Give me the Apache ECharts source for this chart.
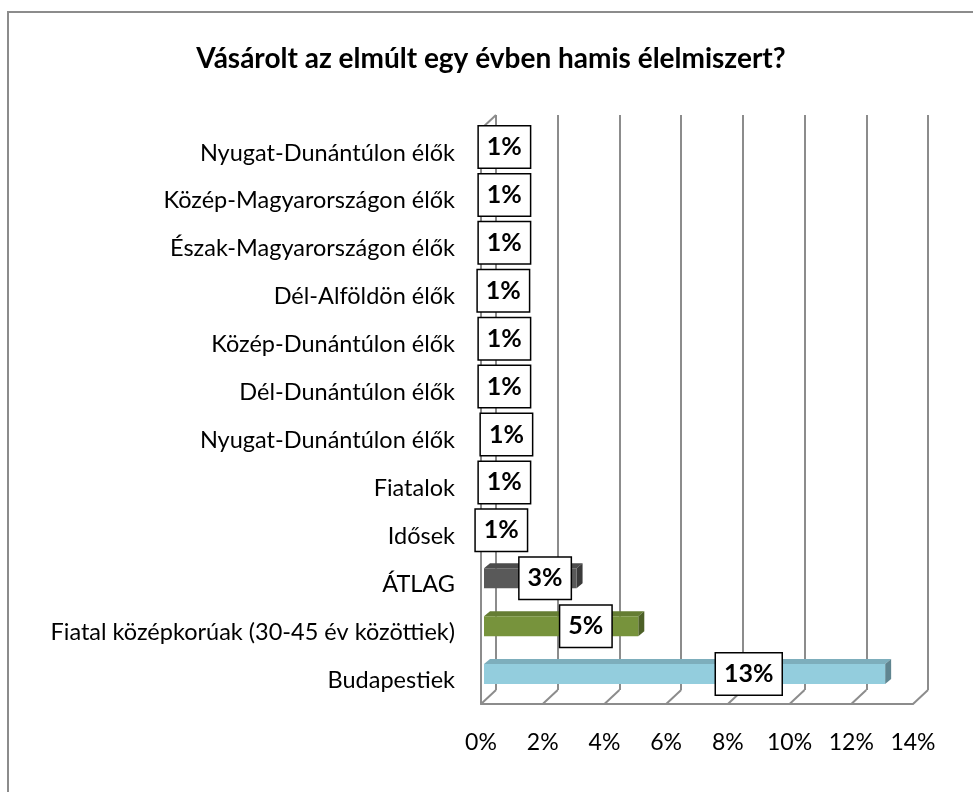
<!DOCTYPE html>
<html>
<head>
<meta charset="utf-8">
<script src="https://cdn.jsdelivr.net/npm/echarts@6/dist/echarts.min.js"></script>
<style>
  html, body { margin: 0; padding: 0; background: #fff; }
  #chart { width: 973px; height: 792px; }
</style>
</head>
<body>
<div id="chart"></div>
<script>
// categories bottom -> top (category axis starts at the bottom)
const categories = [
  "Budapestiek",
  "Fiatal középkorúak (30-45 év közöttiek)",
  "ÁTLAG",
  "Idősek",
  "Fiatalok",
  "Nyugat-Dunántúlon élők",
  "Dél-Dunántúlon élők",
  "Közép-Dunántúlon élők",
  "Dél-Alföldön élők",
  "Észak-Magyarországon élők",
  "Közép-Magyarországon élők",
  "Nyugat-Dunántúlon élők"
];
const values = [13, 5, 3, 0.85, 1.0, 1.1, 1.0, 1.0, 0.95, 1.0, 1.0, 1.0];
const barColors = ["#93cddd", "#77933c", "#595959", "#4f81bd", "#4f81bd", "#4f81bd",
  "#4f81bd", "#4f81bd", "#4f81bd", "#4f81bd", "#4f81bd", "#4f81bd"];
const tickValues = [0, 2, 4, 6, 8, 10, 12, 14];

const FONT = "Lato";
const DEPTH_X = 15, DEPTH_Y = 14;   // wall depth
const BAR_DX = 6, BAR_DY = 5;       // bar depth
const GRID_COLOR = "#8c8c8c";

function shade(hex, f) {
  const n = parseInt(hex.slice(1), 16);
  const r = Math.round(((n >> 16) & 255) * f);
  const g = Math.round(((n >> 8) & 255) * f);
  const b = Math.round((n & 255) * f);
  return "rgb(" + r + "," + g + "," + b + ")";
}

const chart = echarts.init(document.getElementById("chart"));

chart.setOption({
  animation: false,
  backgroundColor: "#fff",
  title: {
    text: "Vásárolt az elmúlt egy évben hamis élelmiszert?",
    left: 486,
    textAlign: "center",
    top: 40,
    textStyle: { fontFamily: FONT, fontWeight: "bold", fontSize: 28, color: "#000" }
  },
  graphic: [{
    type: "rect",
    shape: { x: 8, y: 12, width: 980, height: 800 },
    style: { fill: "none", stroke: GRID_COLOR, lineWidth: 2 },
    silent: true
  }],
  grid: [
    // front plane
    { left: 481, right: 60, top: 129, bottom: 88 },
    // back wall plane
    { left: 481 + DEPTH_X, right: 60 - DEPTH_X, top: 129 - DEPTH_Y, bottom: 88 + DEPTH_Y }
  ],
  xAxis: [{
    gridIndex: 0, type: "value", min: 0, max: 14, interval: 2,
    axisLine: { show: true, lineStyle: { color: GRID_COLOR, width: 2 } },
    axisTick: { show: false },
    splitLine: { show: false },
    axisLabel: {
      margin: 27, fontFamily: FONT, fontSize: 23, color: "#000",
      formatter: v => v + "%"
    }
  }, {
    gridIndex: 1, type: "value", min: 0, max: 14, interval: 2,
    axisLine: { show: false }, axisTick: { show: false }, axisLabel: { show: false },
    splitLine: { show: true, lineStyle: { color: GRID_COLOR, width: 2 } }
  }],
  yAxis: [{
    gridIndex: 0, type: "category", data: categories,
    axisLine: { show: true, lineStyle: { color: GRID_COLOR, width: 2 } },
    axisTick: { show: false },
    axisLabel: { margin: 26, fontFamily: FONT, fontSize: 23.5, color: "#000" }
  }, {
    gridIndex: 1, type: "category", data: categories,
    axisLine: { show: false }, axisTick: { show: false }, axisLabel: { show: false }
  }],
  series: [{
    // floor diagonals and wall top edge
    type: "custom",
    xAxisIndex: 0, yAxisIndex: 0,
    silent: true,
    data: tickValues.map(v => [v, 0]),
    renderItem: function (params, api) {
      const p = api.coord([api.value(0), 0]);
      const band = api.size([0, 1])[1];
      const y0 = p[1] + band / 2;
      const children = [{
        type: "line",
        shape: { x1: p[0], y1: y0, x2: p[0] + DEPTH_X, y2: y0 - DEPTH_Y },
        style: { stroke: GRID_COLOR, lineWidth: 2 }
      }];
      if (api.value(0) === 0) {
        const top = api.coord([0, categories.length - 1])[1] - band / 2;
        children.push({
          type: "line",
          shape: { x1: p[0], y1: top, x2: p[0] + DEPTH_X, y2: top - DEPTH_Y },
          style: { stroke: GRID_COLOR, lineWidth: 2 }
        });
      }
      return { type: "group", children: children };
    }
  }, {
    // 3D bars with boxed labels
    type: "custom",
    xAxisIndex: 0, yAxisIndex: 0,
    data: values.map((v, i) => [v, i]),
    renderItem: function (params, api) {
      const val = api.value(0);
      const idx = api.value(1);
      const s = api.coord([0, idx]);
      const e = api.coord([val, idx]);
      const h = 20;
      const x0 = s[0] + 3, x1 = e[0] + 3;
      const yc = s[1] - 6;
      const yt = yc - h / 2, yb = yc + h / 2;
      const c = barColors[idx];
      const lx = x0 + (x1 - x0) * 0.66;
      return {
        type: "group",
        children: [{
          type: "polygon",
          shape: { points: [[x0, yt], [x1, yt], [x1 + BAR_DX, yt - BAR_DY], [x0 + BAR_DX, yt - BAR_DY]] },
          style: { fill: shade(c, 0.85) }
        }, {
          type: "polygon",
          shape: { points: [[x1, yt], [x1 + BAR_DX, yt - BAR_DY], [x1 + BAR_DX, yb - BAR_DY], [x1, yb]] },
          style: { fill: shade(c, 0.65) }
        }, {
          type: "rect",
          shape: { x: x0, y: yt, width: x1 - x0, height: h },
          style: { fill: c }
        }, {
          type: "text",
          x: lx, y: yc,
          style: {
            text: Math.round(val) + "%",
            fontFamily: FONT, fontWeight: "bold", fontSize: 25, fill: "#000",
            align: "center", verticalAlign: "middle",
            backgroundColor: "#fff", borderColor: "#000", borderWidth: 1.5,
            padding: [8, 8, 8, 8]
          }
        }]
      };
    }
  }]
});
</script>
</body>
</html>
